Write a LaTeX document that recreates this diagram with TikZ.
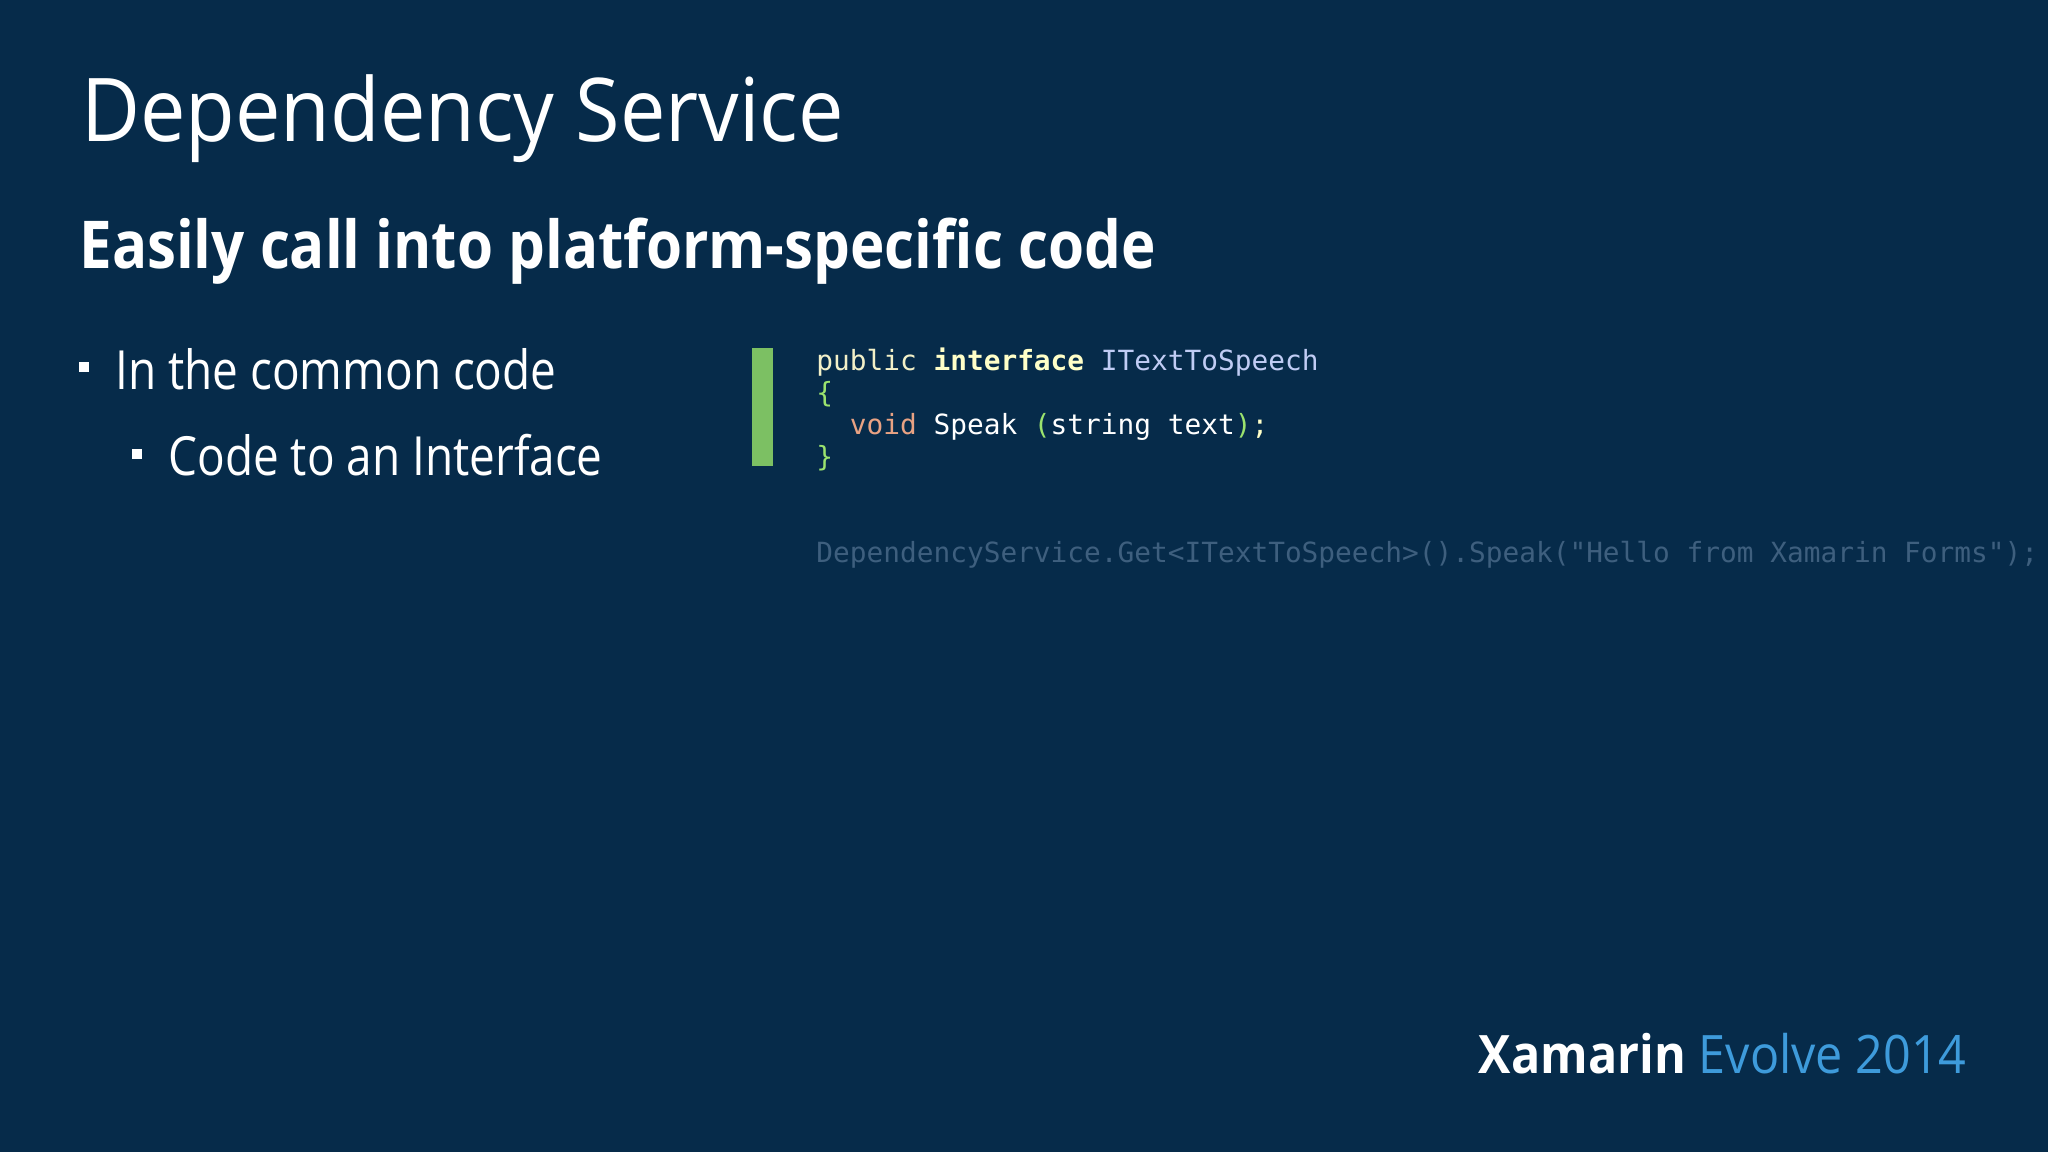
\documentclass[tikz,border=0pt]{standalone}
\usepackage{fontspec}
\setmainfont{Open Sans}
\newfontfamily\codefont{DejaVu Sans Mono}
\definecolor{bg}{HTML}{062B4A}
\definecolor{barg}{HTML}{7CC063}
\definecolor{kwa}{HTML}{F2F0C8}
\definecolor{kwb}{HTML}{FFFFC8}
\definecolor{tname}{HTML}{C0CCF4}
\definecolor{brc}{HTML}{9BE36E}
\definecolor{vd}{HTML}{E8A283}
\definecolor{fade}{HTML}{3E5F7E}
\definecolor{evo}{HTML}{3E9BDB}
\begin{document}
\begin{tikzpicture}[x=0.5pt,y=-0.5pt,
  txt/.style={anchor=base west,inner sep=0,text=white},
  code/.style={anchor=base west,inner sep=0,font=\codefont\fontsize{13.9}{16}\selectfont}]
\fill[bg] (0,0) rectangle (2048,1152);
\useasboundingbox (0,0) rectangle (2048,1152);
\node[txt,font=\fontsize{44}{50}\selectfont] (title) at (81,141) {\scalebox{0.92}[1]{Dependency Service}};
\node[txt,font=\bfseries\fontsize{33}{40}\selectfont] (sub) at (79,268) {\scalebox{0.883}[1]{Easily call into platform-specific code}};
\fill[white] (79,362) rectangle (89,372);
\node[txt,font=\fontsize{27}{32}\selectfont] (b1) at (115,389) {\scalebox{0.85}[1]{In the common code}};
\fill[white] (132,449) rectangle (142,459);
\node[txt,font=\fontsize{27}{32}\selectfont] (b2) at (168,475) {\scalebox{0.85}[1]{Code to an Interface}};
\fill[barg] (752,348) rectangle (773,466);
\node[code] (c1) at (816,370) {\textcolor{kwa}{public} \textcolor{kwb}{\bfseries interface} \textcolor{tname}{ITextToSpeech}};
\node[code] (c2) at (816,402) {\textcolor{brc}{\{}};
\node[code] (c3) at (816,434) {\textcolor{white}{\ \ }\textcolor{vd}{void} \textcolor{white}{Speak} \textcolor{brc}{(}\textcolor{white}{string text}\textcolor{brc}{)}\textcolor{kwb}{;}};
\node[code] (c4) at (816,466) {\textcolor{brc}{\}}};
\node[code,text=fade] (c5) at (816,562) {DependencyService.Get<ITextToSpeech>().Speak("Hello from Xamarin Forms");};
\node[txt,font=\fontsize{26.5}{32}\selectfont,anchor=base east] (foot) at (1967,1073) {\scalebox{0.915}[1]{\bfseries Xamarin \mdseries\textcolor{evo}{Evolve 2014}}};
\end{tikzpicture}
\end{document}
